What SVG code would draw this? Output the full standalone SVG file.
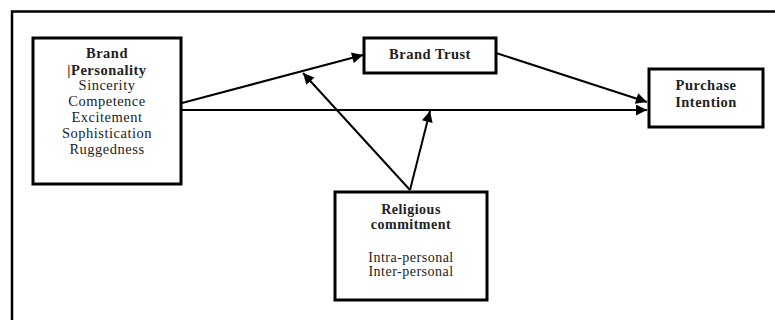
<svg xmlns="http://www.w3.org/2000/svg" width="775" height="320" viewBox="0 0 775 320">
<style>
.box{fill:#fff;stroke:#000;stroke-width:3}
.t{font-family:"Liberation Serif","Times New Roman",serif;font-size:14.5px;letter-spacing:0.5px;fill:#222;text-anchor:middle}
.s{font-size:14px}
.b{font-weight:bold}
.c{stroke:#000;stroke-width:2;fill:none}
</style>
<defs>
<marker id="ah" viewBox="0 0 10 10" refX="10" refY="5" markerWidth="6.5" markerHeight="5.5" markerUnits="strokeWidth" orient="auto">
<path d="M0,0 L10,5 L0,10 z" fill="#000"/>
</marker>
</defs>
<rect width="775" height="320" fill="#fff"/>
<g id="frame"><path d="M12,320 V11.5 H775" stroke="#000" stroke-width="2.5" fill="none"/></g>
<g id="connectors">
<line class="c" x1="182" y1="103" x2="363" y2="55" marker-end="url(#ah)"/>
<line class="c" x1="182" y1="110" x2="647" y2="110" marker-end="url(#ah)"/>
<line class="c" x1="496" y1="53" x2="647" y2="102" marker-end="url(#ah)"/>
<line class="c" x1="410" y1="190" x2="303" y2="73" marker-end="url(#ah)"/>
<line class="c" x1="410" y1="190" x2="430" y2="111" marker-end="url(#ah)"/>
</g>
<g id="brand-personality">
<rect class="box" x="33" y="38" width="148" height="146"/>
<text class="t b" x="107" y="58">Brand</text>
<text class="t b" x="107" y="75">|Personality</text>
<text class="t" x="107" y="90">Sincerity</text>
<text class="t" x="107" y="106">Competence</text>
<text class="t" x="107" y="122">Excitement</text>
<text class="t" x="107" y="138">Sophistication</text>
<text class="t" x="107" y="154">Ruggedness</text>
</g>
<g id="brand-trust">
<rect class="box" x="364" y="38" width="132" height="35"/>
<text class="t b" x="430" y="59">Brand Trust</text>
</g>
<g id="purchase-intention">
<rect class="box" x="649" y="69" width="114" height="58"/>
<text class="t b" x="706" y="90">Purchase</text>
<text class="t b" x="706" y="107">Intention</text>
</g>
<g id="religious-commitment">
<rect class="box" x="335" y="192" width="152" height="108"/>
<text class="t s b" x="411" y="214">Religious</text>
<text class="t s b" x="411" y="229">commitment</text>
<text class="t s" x="411" y="262">Intra-personal</text>
<text class="t s" x="411" y="276">Inter-personal</text>
</g>
</svg>
